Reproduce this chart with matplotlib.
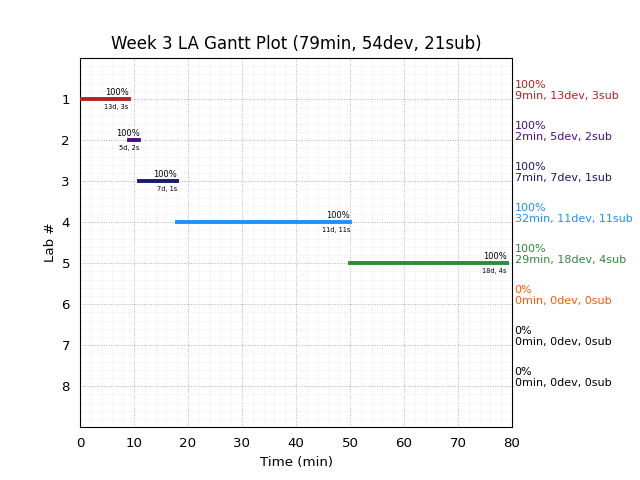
import matplotlib
matplotlib.use("Agg")
import matplotlib.pyplot as plt
from matplotlib.ticker import MultipleLocator

# -------------------------
# Data
# -------------------------
labs = [1, 2, 3, 4, 5, 6, 7, 8]
starts = [0, 9, 11, 18, 50, 0, 0, 0]
durations = [9, 2, 7, 32, 29, 0, 0, 0]
devs = [13, 5, 7, 11, 18, 0, 0, 0]
subs = [3, 2, 1, 11, 4, 0, 0, 0]
pcts = [100, 100, 100, 100, 100, 0, 0, 0]
colors = ["#b22222", "#4b0c8c", "#191970", "#1e90ff", "#2e8b3a",
          "#ff5a00", "black", "black"]

title = "Week 3 LA Gantt Plot (79min, 54dev, 21sub)"

fig = plt.figure(figsize=(8, 6), dpi=80)
ax = fig.add_axes([0.125, 0.110, 0.675, 0.769])

for lab, s, d, dv, sb, p, c in zip(labs, starts, durations, devs, subs, pcts, colors):
    if d > 0:
        ax.plot([s, s + d], [lab, lab], color=c, linewidth=3.5,
                solid_capstyle="projecting", zorder=3)
        ax.text(s + d, lab - 0.06, f"{p}%", ha="right", va="bottom", fontsize=7.5)
        ax.text(s + d, lab + 0.12, f"{dv}d, {sb}s", ha="right", va="top", fontsize=6)
    ax.text(80.5, lab + 0.05, f"{p}%\n{d}min, {dv}dev, {sb}sub",
            color=c, ha="left", va="bottom", fontsize=10, clip_on=False,
            linespacing=1.2)

ax.set_xlim(0, 80)
ax.set_ylim(9, 0)
ax.set_yticks(labs)
ax.set_xticks(range(0, 81, 10))
ax.xaxis.set_minor_locator(MultipleLocator(2))
ax.yaxis.set_minor_locator(MultipleLocator(0.2))
ax.grid(True, which="major", linestyle=":", color="#a8a8a8", linewidth=0.8)
ax.grid(True, which="minor", linestyle="-", color="#f2f2f2", linewidth=0.6)
ax.set_axisbelow(True)
ax.tick_params(which="both", length=0, labelsize=12, pad=9)
for sp in ax.spines.values():
    sp.set_linewidth(1.0)

ax.set_xlabel("Time (min)", fontsize=12, labelpad=5)
ax.set_ylabel("Lab #", fontsize=12)
ax.set_title(title, fontsize=15, pad=8)

fig.savefig("out.png", dpi=80)
